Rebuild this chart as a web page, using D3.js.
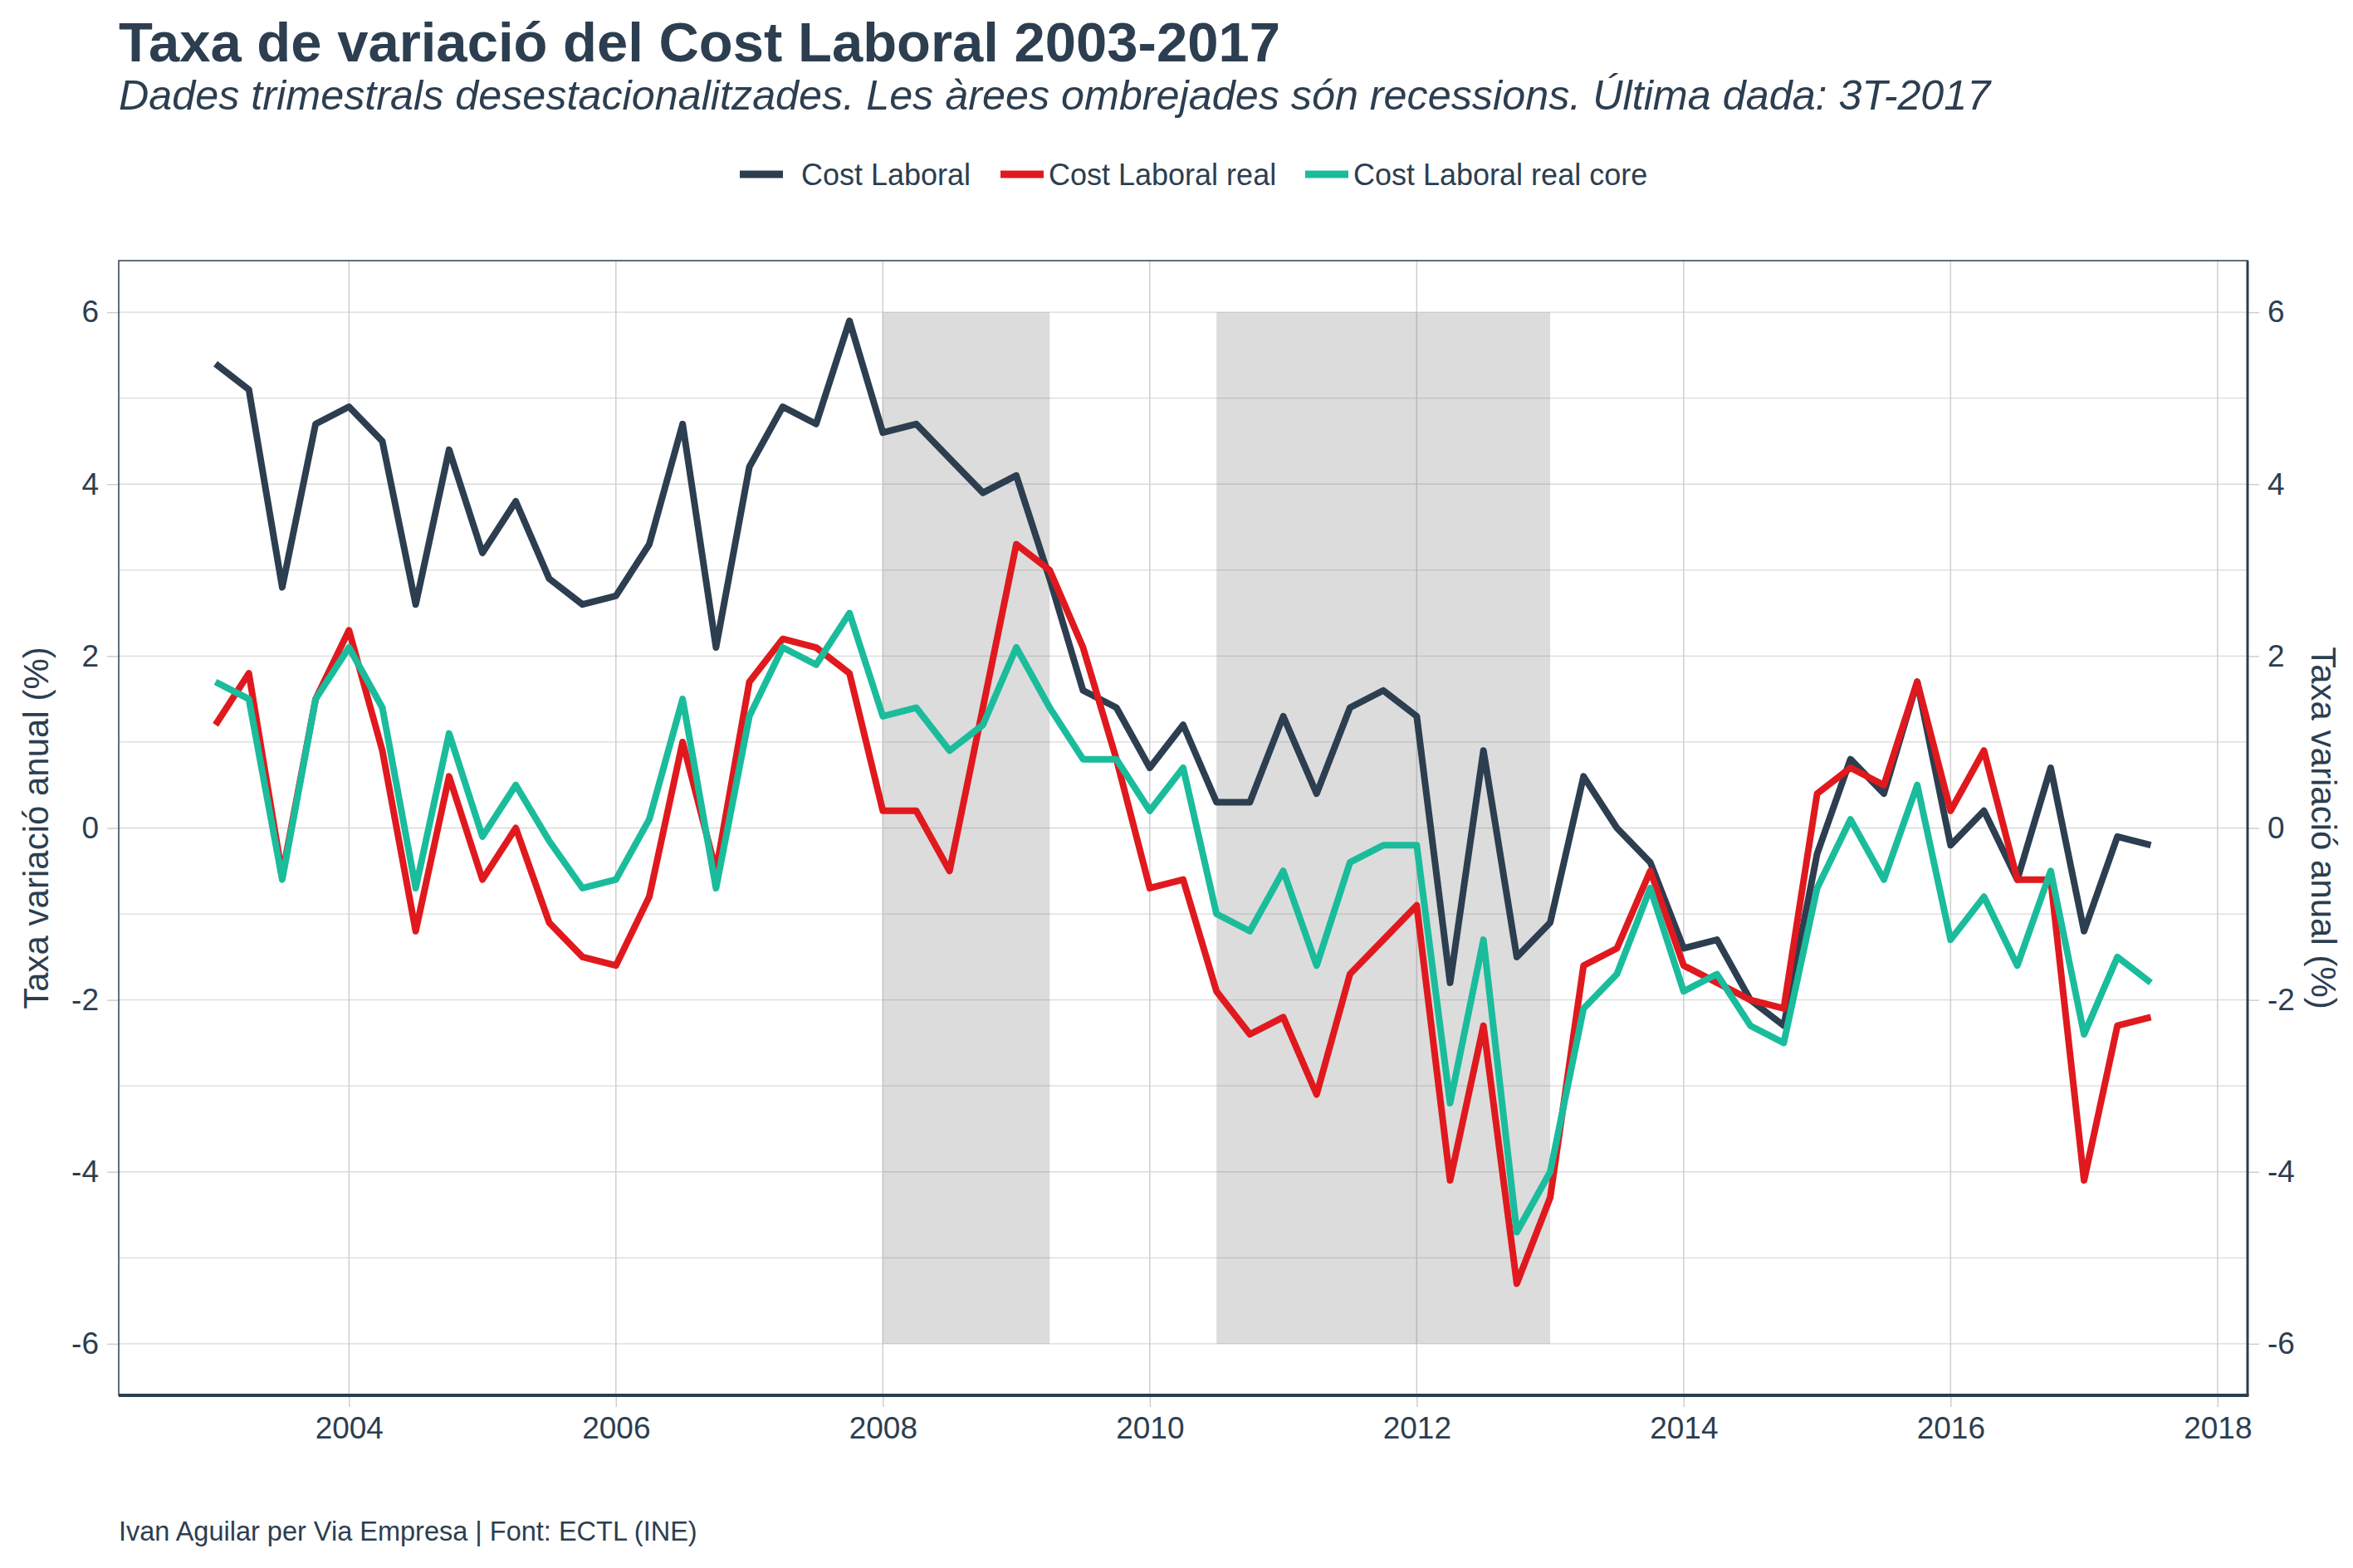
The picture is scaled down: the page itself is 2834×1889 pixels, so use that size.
<!DOCTYPE html>
<html>
<head>
<meta charset="utf-8">
<script src="https://cdn.jsdelivr.net/npm/d3@7"></script>
<style>
  html, body { margin: 0; padding: 0; background: #ffffff; }
  svg { display: block; }
  text { font-family: "Liberation Sans", Arial, sans-serif; fill: #2c3e50; }
</style>
</head>
<body>
<script>
// ---------------- DATA ----------------
const startYear = 2003;          // first quarter: 1T-2003
const quarterStep = 0.25;
const costLaboral = [
  5.4, 5.1, 2.8, 4.7, 4.9, 4.5, 2.6, 4.4, 3.2, 3.8, 2.9, 2.6,
  2.7, 3.3, 4.7, 2.1, 4.2, 4.9, 4.7, 5.9, 4.6, 4.7, 4.3, 3.9,
  4.1, 2.9, 1.6, 1.4, 0.7, 1.2, 0.3, 0.3, 1.3, 0.4, 1.4, 1.6,
  1.3, -1.8, 0.9, -1.5, -1.1, 0.6, 0.0, -0.4, -1.4, -1.3, -2.0, -2.3,
  -0.3, 0.8, 0.4, 1.7, -0.2, 0.2, -0.6, 0.7, -1.2, -0.1, -0.2
];
const costLaboralReal = [
  1.2, 1.8, -0.55, 1.5, 2.3, 0.9, -1.2, 0.6, -0.6, 0.0, -1.1, -1.5,
  -1.6, -0.8, 1.0, -0.5, 1.7, 2.2, 2.1, 1.8, 0.2, 0.2, -0.5, 1.4,
  3.3, 3.0, 2.1, 0.8, -0.7, -0.6, -1.9, -2.4, -2.2, -3.1, -1.7, -1.3,
  -0.9, -4.1, -2.3, -5.3, -4.3, -1.6, -1.4, -0.5, -1.6, -1.8, -2.0, -2.1,
  0.4, 0.7, 0.5, 1.7, 0.2, 0.9, -0.6, -0.6, -4.1, -2.3, -2.2
];
const costLaboralRealCore = [
  1.7, 1.5, -0.6, 1.5, 2.1, 1.4, -0.7, 1.1, -0.1, 0.5, -0.15, -0.7,
  -0.6, 0.1, 1.5, -0.7, 1.3, 2.1, 1.9, 2.5, 1.3, 1.4, 0.9, 1.2,
  2.1, 1.4, 0.8, 0.8, 0.2, 0.7, -1.0, -1.2, -0.5, -1.6, -0.4, -0.2,
  -0.2, -3.2, -1.3, -4.7, -4.0, -2.1, -1.7, -0.7, -1.9, -1.7, -2.3, -2.5,
  -0.7, 0.1, -0.6, 0.5, -1.3, -0.8, -1.6, -0.5, -2.4, -1.5, -1.8
];
const seriesNames = ["Cost Laboral", "Cost Laboral real", "Cost Laboral real core"];
const seriesColors = ["#2c3e50", "#e0191e", "#1abc9c"];
const recessionStart = [2008.0, 2010.5];
const recessionEnd = [2009.25, 2013.0];
const recessionLow = -6;
const recessionHigh = 6;
const xTicks = [2004, 2006, 2008, 2010, 2012, 2014, 2016, 2018];
const yTicks = [-6, -4, -2, 0, 2, 4, 6];
const yGrid = [-6, -5, -4, -3, -2, -1, 0, 1, 2, 3, 4, 5, 6];
const titleText = "Taxa de variació del Cost Laboral 2003-2017";
const subtitleText = "Dades trimestrals desestacionalitzades. Les àrees ombrejades són recessions. Última dada: 3T-2017";
const yTitle = "Taxa variació anual (%)";
const captionText = "Ivan Aguilar per Via Empresa | Font: ECTL (INE)";

// ---------------- LAYOUT ----------------
const W = 2834, H = 1889;
const panel = { left: 143, right: 2707, top: 314, bottom: 1681 };

const svg = d3.select("body").append("svg")
  .attr("width", W).attr("height", H);

const allSeries = [costLaboral, costLaboralReal, costLaboralRealCore];
const times = costLaboral.map((_, i) => startYear + i * quarterStep);

// ggplot-like 5% expansion
const xMin = d3.min(times), xMax = d3.max(times);
const xPad = (xMax - xMin) * 0.05;
const yMinData = Math.min(recessionLow, d3.min(allSeries.flat()));
const yMaxData = Math.max(recessionHigh, d3.max(allSeries.flat()));
const yPad = (yMaxData - yMinData) * 0.05;

const x = d3.scaleLinear().domain([xMin - xPad, xMax + xPad]).range([panel.left, panel.right]);
const y = d3.scaleLinear().domain([yMinData - yPad, yMaxData + yPad]).range([panel.bottom, panel.top]);

// gridlines (horizontal, every unit)
const grid = svg.append("g");
grid.selectAll("line.h").data(yGrid).join("line")
  .attr("x1", panel.left).attr("x2", panel.right)
  .attr("y1", d => y(d)).attr("y2", d => y(d))
  .attr("stroke", "#d9d9d9").attr("stroke-width", 1.3);
// vertical gridlines at major ticks
grid.selectAll("line.v").data(xTicks).join("line")
  .attr("x1", d => x(d)).attr("x2", d => x(d))
  .attr("y1", panel.top).attr("y2", panel.bottom)
  .attr("stroke", "#cfcfcf").attr("stroke-width", 1.5);

// recession rectangles
svg.append("g").selectAll("rect").data(recessionStart).join("rect")
  .attr("x", (d) => x(d))
  .attr("width", (d, i) => x(recessionEnd[i]) - x(d))
  .attr("y", y(recessionHigh))
  .attr("height", y(recessionLow) - y(recessionHigh))
  .attr("fill", "#7f7f7f").attr("fill-opacity", 0.27);

// axes
const fmt = d => d < 0 ? "-" + Math.abs(d) : String(d);
const xAxis = svg.append("g")
  .attr("transform", `translate(0,${panel.bottom})`)
  .call(d3.axisBottom(x).tickValues(xTicks).tickFormat(d3.format("d")).tickSize(14).tickPadding(12));
const yAxisL = svg.append("g")
  .attr("transform", `translate(${panel.left},0)`)
  .call(d3.axisLeft(y).tickValues(yTicks).tickFormat(fmt).tickSize(14).tickPadding(10));
const yAxisR = svg.append("g")
  .attr("transform", `translate(${panel.right},0)`)
  .call(d3.axisRight(y).tickValues(yTicks).tickFormat(fmt).tickSize(14).tickPadding(10));

[xAxis, yAxisL, yAxisR].forEach(g => {
  g.select(".domain").remove();
  g.selectAll(".tick line").attr("stroke", "#cfcfcf").attr("stroke-width", 1.5);
  g.selectAll(".tick text")
    .style("font-family", '"Liberation Sans", Arial, sans-serif')
    .style("font-size", "37px").attr("fill", "#2c3e50");
});

// panel border
svg.append("rect")
  .attr("x", panel.left).attr("y", panel.top)
  .attr("width", panel.right - panel.left).attr("height", panel.bottom - panel.top)
  .attr("fill", "none").attr("stroke", "#2c3e50").attr("stroke-width", 1.5);
svg.append("line")
  .attr("x1", panel.left).attr("x2", panel.right + 1.5)
  .attr("y1", panel.bottom).attr("y2", panel.bottom)
  .attr("stroke", "#2c3e50").attr("stroke-width", 4);
svg.append("line")
  .attr("x1", panel.right).attr("x2", panel.right)
  .attr("y1", panel.top).attr("y2", panel.bottom)
  .attr("stroke", "#2c3e50").attr("stroke-width", 3);

// lines
const lineGen = d3.line().x((d, i) => x(times[i])).y(d => y(d));
svg.append("g").selectAll("path").data(allSeries).join("path")
  .attr("d", d => lineGen(d))
  .attr("fill", "none")
  .attr("stroke", (d, i) => seriesColors[i])
  .attr("stroke-width", 8)
  .attr("stroke-linejoin", "round");

// titles
svg.append("text").attr("x", 143).attr("y", 74)
  .style("font-size", "67px").style("font-weight", "bold").text(titleText);
svg.append("text").attr("x", 143).attr("y", 132)
  .style("font-size", "50.3px").style("font-style", "italic").text(subtitleText);

// legend
const legendKeyX = [891, 1205, 1572];
const legendTextX = [965, 1263, 1630];
const legendY = 210;
const leg = svg.append("g");
seriesNames.forEach((name, i) => {
  leg.append("line")
    .attr("x1", legendKeyX[i]).attr("x2", legendKeyX[i] + 52)
    .attr("y1", legendY).attr("y2", legendY)
    .attr("stroke", seriesColors[i]).attr("stroke-width", 9);
  leg.append("text")
    .attr("x", legendTextX[i]).attr("y", legendY)
    .attr("dominant-baseline", "central")
    .style("font-size", "36px").text(name);
});

// axis titles
const yMid = (panel.top + panel.bottom) / 2;
svg.append("text")
  .attr("transform", `translate(58,${yMid}) rotate(-90)`)
  .attr("text-anchor", "middle")
  .style("font-size", "42px").text(yTitle);
svg.append("text")
  .attr("transform", `translate(2784,${yMid}) rotate(90)`)
  .attr("text-anchor", "middle")
  .style("font-size", "42px").text(yTitle);

// caption
svg.append("text").attr("x", 143).attr("y", 1856)
  .style("font-size", "32.5px").text(captionText);
</script>
</body>
</html>
